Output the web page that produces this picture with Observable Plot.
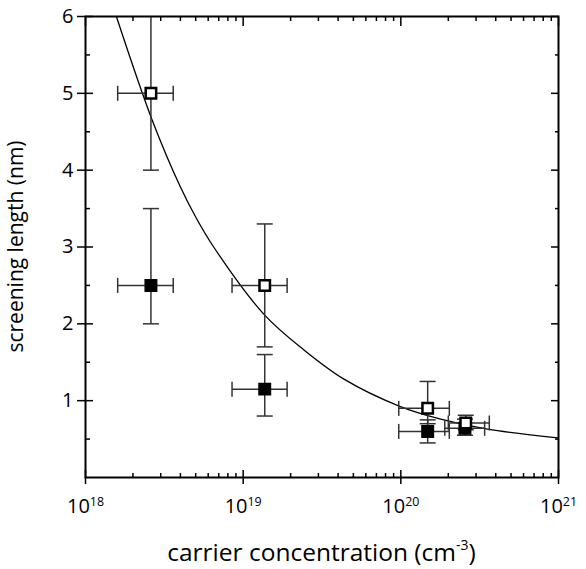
<!DOCTYPE html>
<html><head><meta charset="utf-8">
<script src="https://cdn.jsdelivr.net/npm/d3@7"></script>
<script src="https://cdn.jsdelivr.net/npm/@observablehq/plot@0.6"></script>
<style>body{margin:0;background:#fff}</style>
</head><body><div id="chart"></div>
<script>
// ---- data ----
// open squares
const openX   = [2.6e18, 1.37e19, 1.48e20, 2.58e20];
const openY   = [5.0, 2.5, 0.9, 0.71];
const openXLo = [1.6e18, 8.5e18, 9.7e19, 2.0e20];
const openXHi = [3.6e18, 1.9e19, 2.03e20, 3.64e20];
const openYLo = [4.0, 1.7, 0.7, 0.62];
const openYHi = [6.5, 3.3, 1.25, 0.81];
// filled squares
const filledX   = [2.6e18, 1.37e19, 1.48e20, 2.55e20];
const filledY   = [2.5, 1.15, 0.6, 0.64];
const filledXLo = [1.6e18, 8.5e18, 9.7e19, 1.9e20];
const filledXHi = [3.6e18, 1.9e19, 2.03e20, 3.4e20];
const filledYLo = [2.0, 0.8, 0.45, 0.55];
const filledYHi = [3.5, 1.6, 0.75, 0.76];
// fitted curve
const curveX = [1.57e18, 2.65e18, 4.0e18, 5.0e18, 6.5e18, 1.36e19, 2.43e19, 4.36e19, 9.75e19, 1.79e20, 3.55e20, 1e21];
const curveY = [6.0, 4.65, 3.78, 3.39, 3.0, 2.12, 1.66, 1.28, 0.93, 0.76, 0.63, 0.515];
// ticks
const xMajor = [1e18, 1e19, 1e20, 1e21];
const xMinor = [2,3,4,5,6,7,8,9].flatMap(m => [1e18, 1e19, 1e20].map(d => m * d));
const yMajor = [1, 2, 3, 4, 5, 6];
const yMinor = [0.5, 1.5, 2.5, 3.5, 4.5, 5.5];

// ---- tables ----
const mk = (X, Y, XL, XH, YL, YH) => X.map((x, i) => ({x, y: Y[i], xlo: XL[i], xhi: XH[i], ylo: YL[i], yhi: YH[i]}));
const open = mk(openX, openY, openXLo, openXHi, openYLo, openYHi);
const filled = mk(filledX, filledY, filledXLo, filledXHi, filledYLo, filledYHi);
const all = [...filled, ...open];
const curve = curveX.map((x, i) => ({x, y: curveY[i]}));
const vCapsData = all.flatMap(d => [{x: d.x, y: d.ylo}, {x: d.x, y: d.yhi}]);
const hCapsData = all.flatMap(d => [{x: d.xlo, y: d.y}, {x: d.xhi, y: d.y}]);

const hCap = {draw(ctx, size) { const h = Math.sqrt(size / Math.PI); ctx.moveTo(-h, 0); ctx.lineTo(h, 0); }};
const vCap = {draw(ctx, size) { const h = Math.sqrt(size / Math.PI); ctx.moveTo(0, -h); ctx.lineTo(0, h); }};

const FONT = "'Open Sans', Lato, sans-serif";
const errColor = "#333";
const tickW = 1.5;
const fmt = d => "10^" + Math.round(Math.log10(d));

const chart = Plot.plot({
  width: 586, height: 569,
  marginLeft: 85, marginRight: 28, marginTop: 16, marginBottom: 92,
  style: {fontFamily: FONT, background: "#fff"},
  x: {type: "log", domain: [1e18, 1e21]},
  y: {domain: [0, 6]},
  marks: [
    // curve
    Plot.line(curve, {x: "x", y: "y", curve: "catmull-rom", stroke: "black", strokeWidth: 1.3, clip: true}),
    // error bars
    Plot.link(all, {x1: "xlo", x2: "xhi", y1: "y", y2: "y", stroke: errColor, strokeWidth: 1.5, clip: true}),
    Plot.link(all, {x1: "x", x2: "x", y1: "ylo", y2: "yhi", stroke: errColor, strokeWidth: 1.5, clip: true}),
    Plot.dot(vCapsData, {x: "x", y: "y", symbol: hCap, r: 8, stroke: errColor, fill: "none", strokeWidth: 1.5, clip: true}),
    Plot.dot(hCapsData, {x: "x", y: "y", symbol: vCap, r: 7.5, stroke: errColor, fill: "none", strokeWidth: 1.5, clip: true}),
    // squares
    Plot.dot(filled, {x: "x", y: "y", symbol: "square", r: 5.9, fill: "black", stroke: "black", strokeWidth: 2.5}),
    Plot.dot(open, {x: "x", y: "y", symbol: "square", r: 5.9, fill: "white", stroke: "black", strokeWidth: 2.5}),
    // axes: bottom
    Plot.axisX({anchor: "bottom", ticks: xMajor, tickSize: 7, tickPadding: 14, tickFormat: fmt, fontSize: 20, label: null, strokeWidth: tickW, fill: "black"}),
    Plot.axisX({anchor: "bottom", ticks: xMajor, tickSize: -7, fill: "none", label: null, strokeWidth: tickW}),
    Plot.axisX({anchor: "bottom", ticks: xMinor, tickSize: -4, fill: "none", label: null, strokeWidth: tickW}),
    // top
    Plot.axisX({anchor: "top", ticks: xMajor, tickSize: -9, fill: "none", label: null, strokeWidth: tickW}),
    Plot.axisX({anchor: "top", ticks: xMinor, tickSize: -4, fill: "none", label: null, strokeWidth: tickW}),
    // left
    Plot.axisY({anchor: "left", ticks: yMajor, tickSize: 8, tickPadding: 4, tickFormat: d => String(d), fontSize: 20, label: null, strokeWidth: tickW, fill: "black"}),
    Plot.axisY({anchor: "left", ticks: yMajor, tickSize: -8, fill: "none", label: null, strokeWidth: tickW}),
    Plot.axisY({anchor: "left", ticks: yMinor, tickSize: -5, fill: "none", label: null, strokeWidth: tickW}),
    // right
    Plot.axisY({anchor: "right", ticks: yMajor, tickSize: -8, fill: "none", label: null, strokeWidth: tickW}),
    Plot.axisY({anchor: "right", ticks: yMinor, tickSize: -4, fill: "none", label: null, strokeWidth: tickW}),
    Plot.frame({stroke: "black", strokeWidth: 2})
  ]
});

const svg = d3.select(chart);
// superscript exponents on x tick labels
svg.selectAll('g[aria-label="x-axis tick label"] text').each(function () {
  const t = d3.select(this);
  const parts = t.text().split("^");
  if (parts.length === 2) {
    t.text(parts[0]);
    t.append("tspan").attr("dy", "-0.55em").attr("font-size", "0.62em").text(parts[1]);
  }
});
// axis titles
const xl = svg.append("text")
  .attr("x", (85 + 558) / 2).attr("y", 561)
  .attr("text-anchor", "middle").attr("font-size", 24.5).attr("fill", "black")
  .attr("font-family", FONT);
xl.append("tspan").text("carrier concentration (cm");
xl.append("tspan").attr("dy", -11).attr("font-size", 14).text("-3");
xl.append("tspan").attr("dy", 11).text(")");
svg.append("text")
  .attr("transform", "translate(23," + ((16 + 477) / 2) + ") rotate(-90)")
  .attr("text-anchor", "middle").attr("font-size", 21).attr("fill", "black")
  .attr("font-family", FONT)
  .text("screening length (nm)");

document.getElementById("chart").appendChild(chart);
</script></body></html>
